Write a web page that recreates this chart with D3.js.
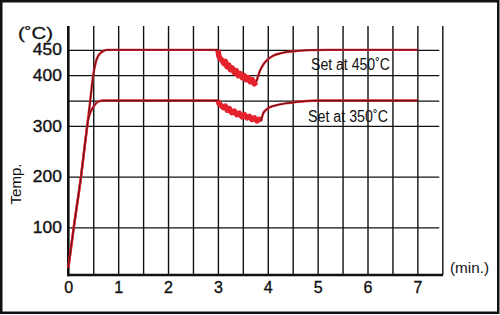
<!DOCTYPE html>
<html>
<head>
<meta charset="utf-8">
<script src="https://cdn.jsdelivr.net/npm/d3@7"></script>
<style>
  body { margin: 0; background: #fff; }
  text { font-family: "Liberation Sans", Arial, sans-serif; fill: #111; }
</style>
</head>
<body>
<svg id="chart" width="500" height="315"></svg>
<script>
// values (minutes, deg C)
const minuteLabels = [0, 1, 2, 3, 4, 5, 6, 7]
const halfMinutes = [0.5, 1, 1.5, 2, 2.5, 3, 3.5, 4, 4.5, 5, 5.5, 6, 6.5, 7, 7.5]
const tempLabels = [100, 200, 300, 400, 450]
const tempGrid = [100, 200, 300, 350, 400, 450]

const rise450 = [[0, 20], [0.11, 100], [0.255, 200], [0.38, 300], [0.44, 350], [0.5, 400], [0.55, 425],
  [0.6, 438], [0.65, 444], [0.7, 447.5], [0.78, 450], [3.0, 450]]
const dip450 = [[3.0, 450], [3.02, 438], [3.05, 432], [3.08, 430], [3.12, 423], [3.15, 427], [3.18, 417],
  [3.22, 420], [3.25, 411], [3.29, 414], [3.33, 405], [3.37, 409], [3.41, 399], [3.45, 403], [3.49, 395],
  [3.53, 399], [3.57, 391], [3.61, 395], [3.65, 387], [3.69, 391], [3.73, 383], [3.77, 387]]
const recover450 = [[3.77, 387], [3.8, 396], [3.84, 408], [3.88, 416], [3.94, 425], [4.0, 431], [4.1, 438],
  [4.25, 443], [4.4, 446], [4.6, 448], [4.85, 449.5], [5.2, 450], [7.0, 450]]

const rise350 = [[0, 20], [0.11, 100], [0.255, 200], [0.38, 300], [0.4, 313], [0.44, 326], [0.48, 334],
  [0.52, 340], [0.57, 346], [0.63, 349], [0.7, 350], [3.0, 350]]
const dip350 = [[3.0, 350], [3.03, 343], [3.07, 340], [3.11, 336], [3.15, 339], [3.19, 331], [3.23, 334],
  [3.28, 326], [3.33, 329], [3.38, 322], [3.43, 325], [3.48, 318], [3.53, 322], [3.58, 316], [3.63, 319],
  [3.68, 313], [3.73, 316], [3.78, 310], [3.83, 313], [3.86, 309]]
const recover350 = [[3.86, 309], [3.88, 316], [3.91, 325], [3.96, 331], [4.01, 335], [4.1, 339], [4.18, 341],
  [4.3, 343.5], [4.45, 345.5], [4.6, 347.5], [4.78, 349], [5.0, 350], [7.0, 350]]

const svg = d3.select("#chart")
const red = "#e3222b"
const darkRed = "#55121a"

// plot box
const plotLeft = 68.3, plotRight = 442.3, plotTop = 26, plotBottom = 275
const x = d3.scaleLinear().domain([0, 7.5]).range([plotLeft, plotRight])
const y = d3.scaleLinear().domain([6, 497]).range([plotBottom, plotTop])

svg.append("rect")
  .attr("x", 1.25).attr("y", 1.25).attr("width", 497).attr("height", 311.5)
  .attr("fill", "#fff").attr("stroke", "#111").attr("stroke-width", 2.5)

// vertical grid
svg.append("g")
  .attr("transform", "translate(0," + plotBottom + ")")
  .call(d3.axisBottom(x).tickValues(halfMinutes).tickSize(-(plotBottom - plotTop)).tickFormat(""))
  .call(g => g.select(".domain").remove())
  .call(g => g.selectAll("line").attr("stroke", "#111").attr("stroke-width", 1.4))

// horizontal grid
svg.append("g")
  .attr("transform", "translate(" + plotLeft + ",0)")
  .call(d3.axisLeft(y).tickValues(tempGrid).tickSize(-(plotRight - plotLeft - 3)).tickFormat(""))
  .call(g => g.select(".domain").remove())
  .call(g => g.selectAll("line").attr("stroke", "#111").attr("stroke-width", 1.3))

// axis lines
svg.append("line").attr("x1", plotLeft).attr("x2", plotLeft).attr("y1", plotTop).attr("y2", plotBottom + 1.2)
  .attr("stroke", "#111").attr("stroke-width", 2.6)
svg.append("line").attr("x1", plotLeft - 1.2).attr("x2", plotRight + 0.7).attr("y1", plotBottom).attr("y2", plotBottom)
  .attr("stroke", "#111").attr("stroke-width", 2.6)

// tick labels
svg.append("g")
  .attr("transform", "translate(0," + plotBottom + ")")
  .call(d3.axisBottom(x).tickValues(minuteLabels).tickSize(0).tickPadding(7))
  .call(g => g.select(".domain").remove())
  .call(g => g.selectAll("text").attr("font-size", 16).attr("font-family", null)
    .attr("stroke", "#111").attr("stroke-width", 0.35))

svg.append("g")
  .attr("transform", "translate(" + plotLeft + ",0)")
  .call(d3.axisLeft(y).tickValues(tempLabels).tickSize(0).tickPadding(6.5))
  .call(g => g.select(".domain").remove())
  .call(g => g.selectAll("text").attr("font-size", 16).attr("font-family", null)
    .attr("stroke", "#111").attr("stroke-width", 0.35)
    .attr("textLength", 29).attr("lengthAdjust", "spacingAndGlyphs"))

// curves
const smooth = d3.line().x(d => x(d[0])).y(d => y(d[1])).curve(d3.curveMonotoneX)
const jagged = d3.line().x(d => x(d[0])).y(d => y(d[1]))

function drawTrace(rise, dip, recover) {
  svg.append("path").attr("d", jagged(dip)).attr("fill", "none")
    .attr("stroke", red).attr("stroke-width", 5.5).attr("stroke-linejoin", "round")
  ;[rise, recover].forEach(seg => {
    svg.append("path").attr("d", smooth(seg)).attr("fill", "none")
      .attr("stroke", red).attr("stroke-width", 2.4)
    svg.append("path").attr("d", smooth(seg)).attr("fill", "none")
      .attr("stroke", darkRed).attr("stroke-width", 1)
  })
}
drawTrace(rise450, dip450, recover450)
drawTrace(rise350, dip350, recover350)

// texts
svg.append("text").attr("x", 18).attr("y", 38.5).attr("font-size", 17)
  .attr("stroke", "#111").attr("stroke-width", 0.3)
  .attr("textLength", 35).attr("lengthAdjust", "spacingAndGlyphs").text("(˚C)")
svg.append("text").attr("transform", "translate(21,184) rotate(-90)")
  .attr("text-anchor", "middle").attr("font-size", 15).text("Temp.")
svg.append("text").attr("x", 450).attr("y", 273).attr("font-size", 15)
  .attr("textLength", 39).attr("lengthAdjust", "spacingAndGlyphs").text("(min.)")
svg.append("text").attr("x", 311).attr("y", 70).attr("font-size", 16)
  .attr("textLength", 79).attr("lengthAdjust", "spacingAndGlyphs").text("Set at 450˚C")
svg.append("text").attr("x", 308).attr("y", 121.7).attr("font-size", 16)
  .attr("textLength", 80).attr("lengthAdjust", "spacingAndGlyphs").text("Set at 350˚C")
</script>
</body>
</html>
